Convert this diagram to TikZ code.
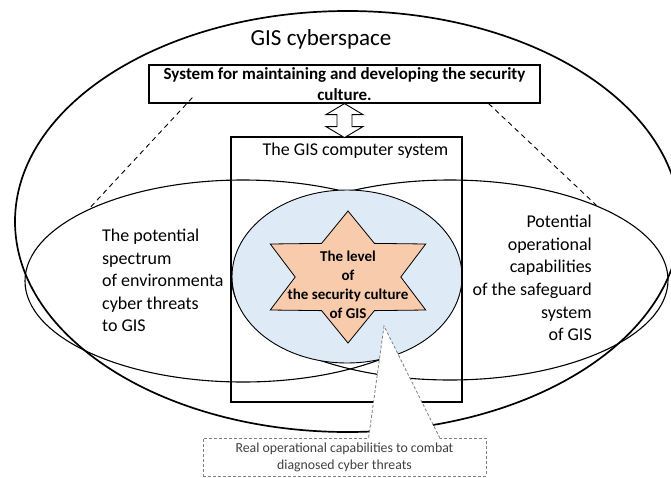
\documentclass[tikz,border=0pt]{standalone}
\usepackage{fontspec}
\setmainfont{Carlito}
\usetikzlibrary{shapes.geometric,calc}
\definecolor{lensblue}{HTML}{DEEBF7}
\definecolor{starorange}{HTML}{F8CBAD}
\definecolor{notegrey}{HTML}{7F7F7F}
\definecolor{notetext}{HTML}{404040}

\begin{document}
\begin{tikzpicture}[
                        x=1pt, y=-1pt,
                        zone/.style={
                            ellipse,
                            draw,
                            line width=1.1pt,
                            inner sep=0pt
                        },
                        block/.style={
                            rectangle,
                            draw,
                            align=center,
                            inner sep=0pt
                        },
                        areatext/.style={
                            inner sep=0pt,
                            font=\fontsize{18}{22.6}\selectfont
                        },
                        line/.style={
                            draw,
                            line width=0.9pt,
                            dash pattern=on 5pt off 4pt
                        },
                        noteline/.style={
                            draw=notegrey,
                            line width=0.8pt,
                            dash pattern=on 3pt off 2pt
                        }]

                        \useasboundingbox (0,0) rectangle (671,477);

                        \node (cyberspace) [zone, line width=1.7pt, minimum width=665pt, minimum height=421pt] at (347.5,221.5) {};
                        \node (threats) [zone, minimum width=436pt, minimum height=202pt] at (243,281) {};
                        \node (safeguard) [zone, minimum width=436pt, minimum height=200pt] at (450,280) {};

                        \node (threats_text) [areatext, align=left, anchor=west] at (102,280.5) {The potential\\spectrum\\of environmenta\\cyber threats\\to GIS};
                        \node (safeguard_text) [areatext, align=right, anchor=east] at (592,278) {Potential\\operational\\capabilities\\of the safeguard\\system\\of GIS};

                        \node (lens) [zone, line width=0.9pt, fill=lensblue, minimum width=230pt, minimum height=173pt] at (347,276.5) {};
                        \node (compsys) [block, line width=1.7pt, minimum width=231pt, minimum height=265pt] at (346.5,269.5) {};
                        \node (compsys_label) [areatext] at ($(compsys.north)+(9,15)$) {The GIS computer system};

                        \node (culture_star) [star, star points=6, star point ratio=1.7, minimum size=132pt, xscale=1.36, inner sep=0pt, draw, line width=0.8pt, fill=starorange] at (348,277) {};
                        \node (culture_text) [inner sep=0pt, align=center, font=\bfseries\fontsize{15}{19}\selectfont] at (348,285) {The level\\of\\the security culture\\of GIS};

                        \node (title) [inner sep=0pt, font=\fontsize{23}{28}\selectfont] at (321,39) {GIS cyberspace};
                        \node (sysbox) [block, line width=1.2pt, minimum width=391pt, minimum height=38pt, font=\bfseries\fontsize{17}{21}\selectfont] at (344.5,84) {System for maintaining and developing the security\\culture.};

                        % hollow double arrow
                        \draw [line width=0.9pt, fill=white] (sysbox.south)
                            -- ++(18.5,11) -- ++(-11,0) -- ++(0,12) -- ++(11,0)
                            -- ++(-18.5,11)
                            -- ++(-18.5,-11) -- ++(11,0) -- ++(0,-12) -- ++(-11,0)
                            -- cycle;

                        \draw [line] ($(sysbox.south west)+(44,-6)$) -- (threats.155);
                        \draw [line] ($(sysbox.south east)+(-52,0)$) -- (safeguard.27);

                        % note with pointer
                        \node (combat_note) [block, noteline, minimum width=283pt, minimum height=38pt, text=notetext, font=\fontsize{13.8}{17}\selectfont] at (344.5,457) {Real operational capabilities to combat\\diagnosed cyber threats};
                        \coordinate (note_tip) at (384,326);
                        \coordinate (note_left) at ($(combat_note.north west)+(166,0)$);
                        \coordinate (note_right) at ($(combat_note.north west)+(237,0)$);
                        \fill [white] ($(note_left)+(0,1.2)$) -- (note_tip) -- ($(note_right)+(0,1.2)$) -- cycle;
                        \draw [noteline] (note_left) -- (note_tip) -- (note_right);

                    \end{tikzpicture}
\end{document}
